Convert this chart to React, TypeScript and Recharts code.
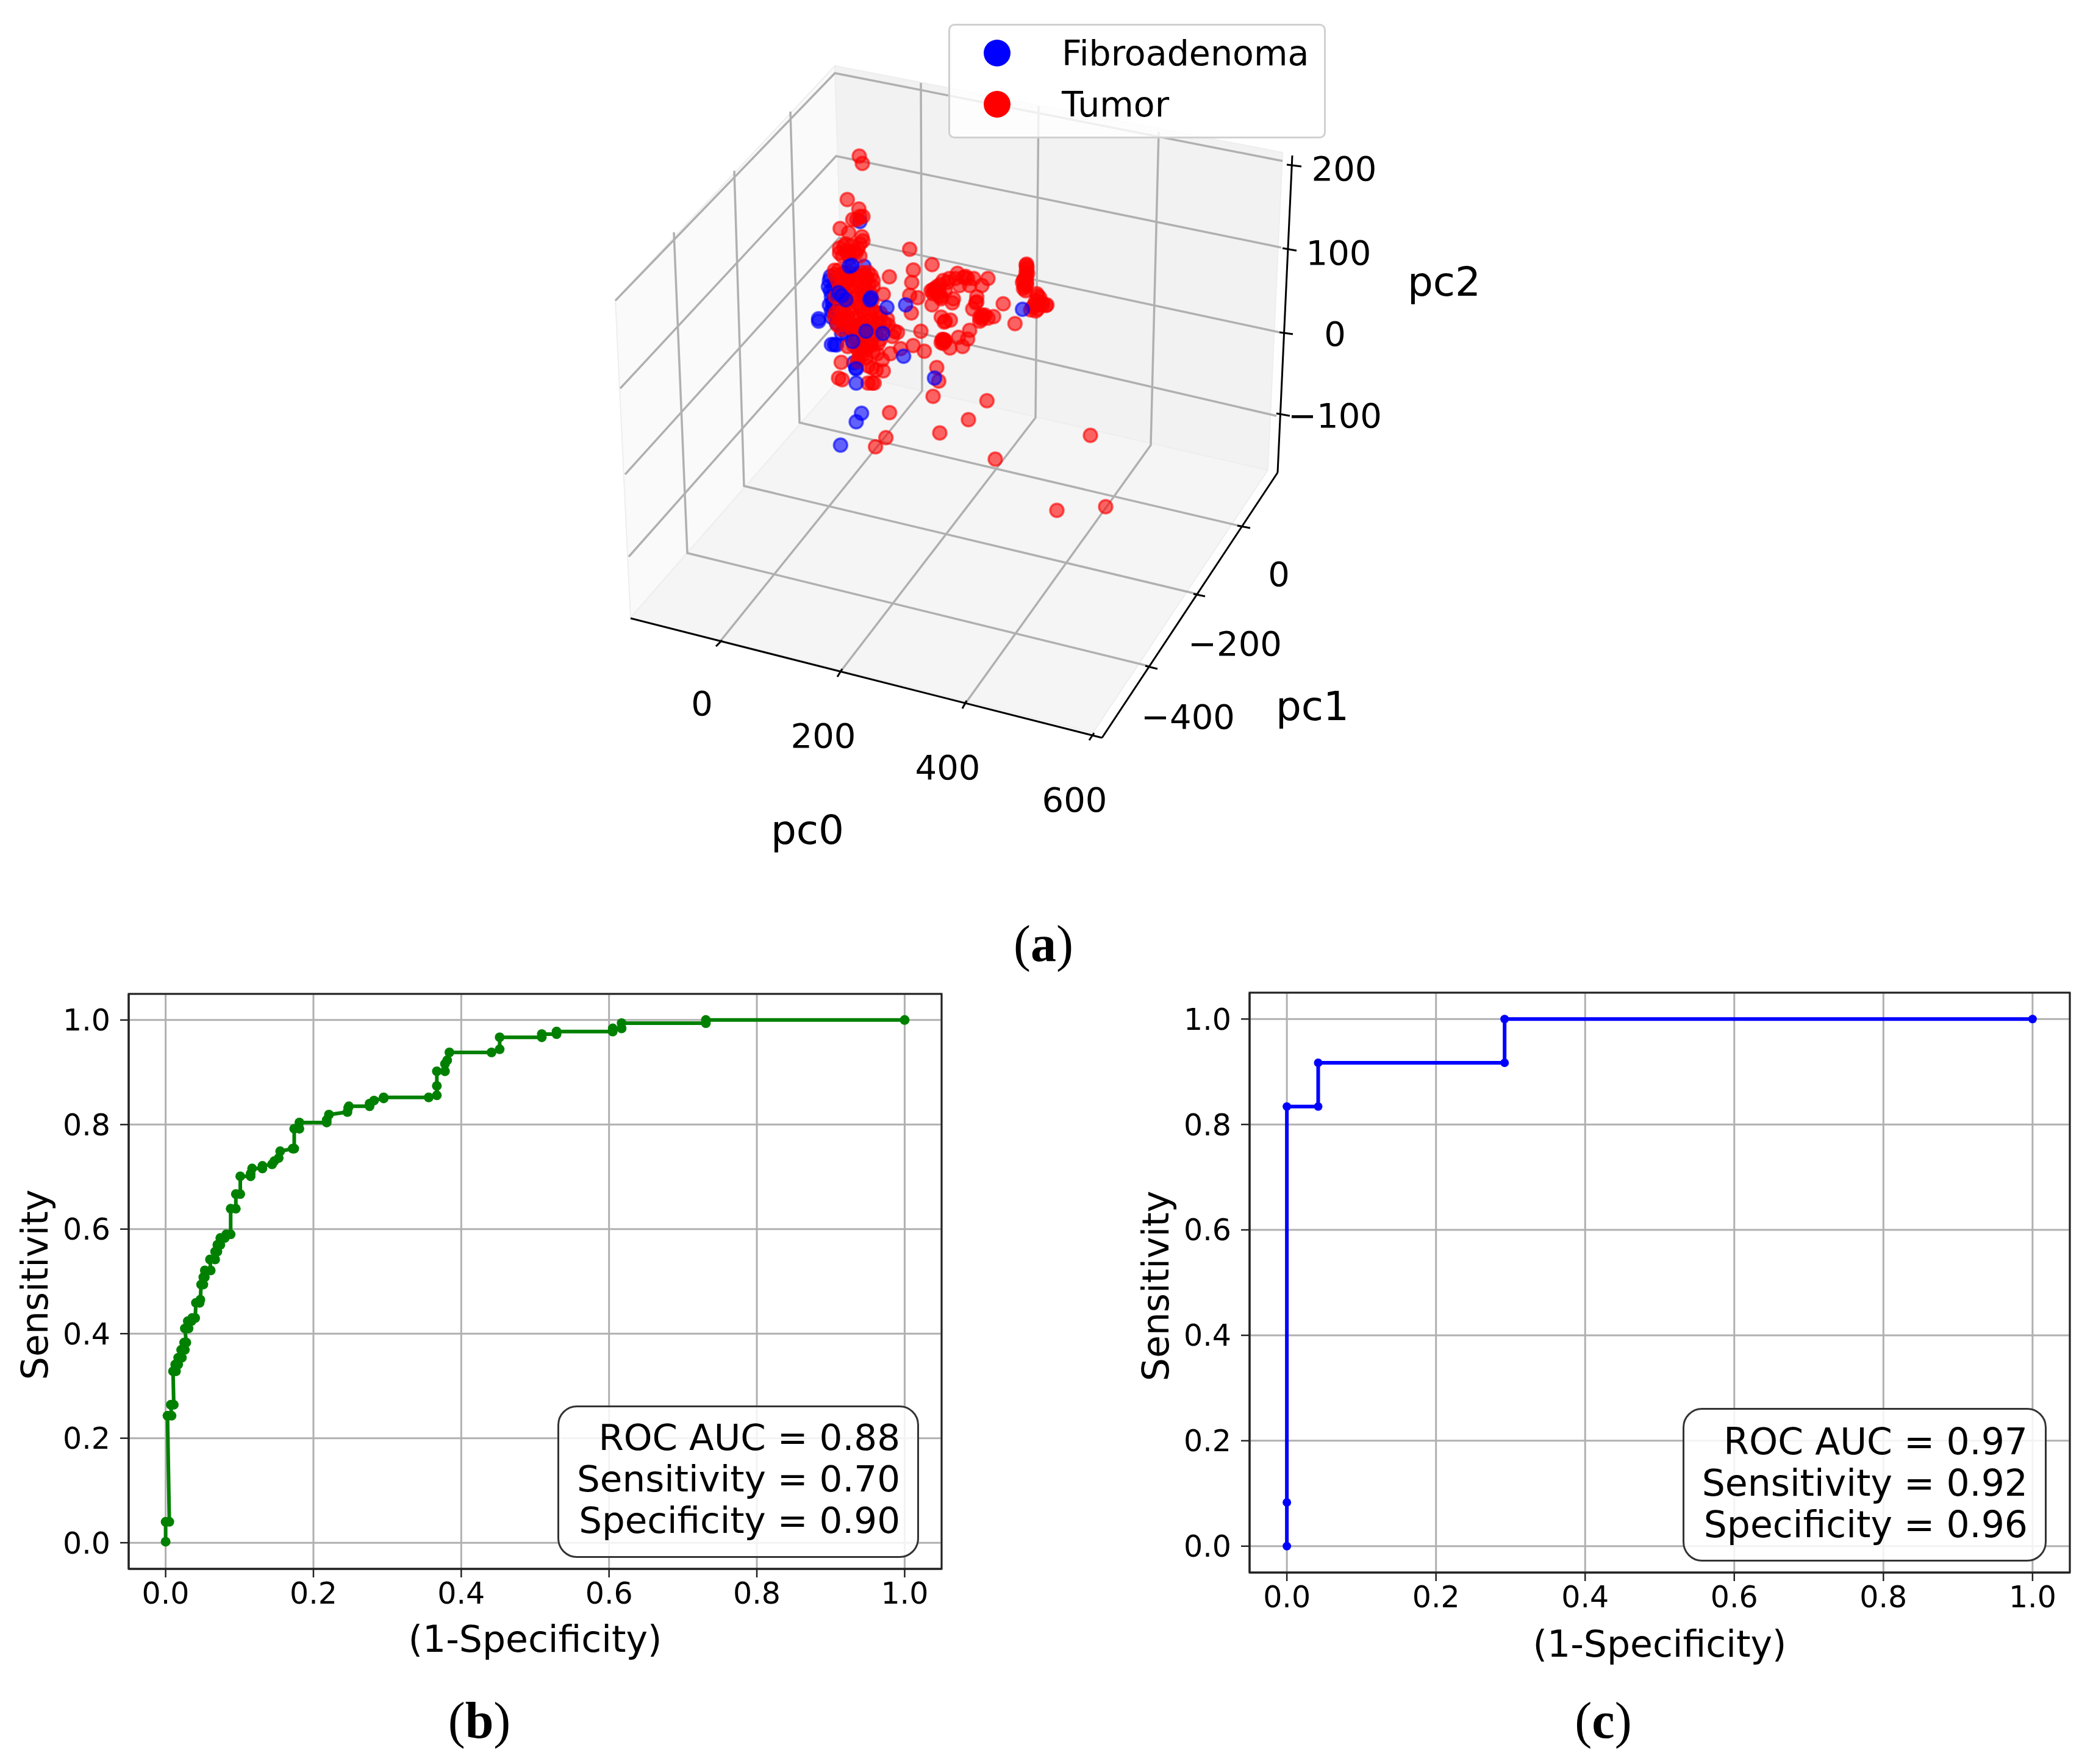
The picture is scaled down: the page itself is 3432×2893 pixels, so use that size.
import React from "react";
import {
  ScatterChart, Scatter, XAxis, YAxis, Legend, LineChart, Line, CartesianGrid, ReferenceArea,
} from "recharts";

const FONT = "'DejaVu Sans', sans-serif";

const leftWall = [[1009, 492], [1369, 108], [1385, 612], [1034, 1013], [1009, 492]];
const backWall = [[1369, 108], [2103, 250], [2079, 771], [1385, 612], [1369, 108]];
const floorPane = [[1034, 1013], [1385, 612], [2079, 771], [1792, 1202], [1034, 1013]];

const gridPc2 = [
  [[1009, 493], [1369, 120], [2103, 264]],
  [[1017, 637], [1371, 256], [2101, 406]],
  [[1025, 778], [1376, 390], [2098, 545]],
  [[1031, 913], [1382, 517], [2093, 682]],
];
const gridPc0 = [
  [[1510, 136], [1512, 641], [1180, 1053]],
  [[1703, 174], [1698, 685], [1377, 1103]],
  [[1900, 216], [1887, 730], [1582, 1155]],
];
const gridPc1 = [
  [[1296, 183], [1311, 693], [2039, 864]],
  [[1204, 280], [1220, 797], [1966, 975]],
  [[1105, 381], [1127, 907], [1886, 1093]],
];
const axisLines3d = [
  [[2119, 255], [2095, 775]],
  [[2095, 775], [1807, 1210]],
  [[1034, 1014], [1807, 1210]],
];
const tickMarks3d = [
  [[2110, 270], [2134, 273]], [[2103, 407], [2126, 411]], [[2098, 545], [2120, 548]], [[2093, 678], [2115, 682]],
  [[1174, 1060], [1184, 1050]], [[1373, 1110], [1381, 1097]], [[1578, 1162], [1585, 1149]], [[1786, 1214], [1794, 1202]],
  [[2029, 862], [2050, 866]], [[1957, 974], [1976, 978]], [[1878, 1092], [1898, 1097]],
];
const tickLabels3d = [
  { x: 2204, y: 276, label: "200" }, { x: 2195, y: 414, label: "100" }, { x: 2189, y: 547, label: "0" }, { x: 2189, y: 681, label: "\u2212100" },
  { x: 2097, y: 941, label: "0" }, { x: 2025, y: 1055, label: "\u2212200" }, { x: 1948, y: 1175, label: "\u2212400" },
  { x: 1151, y: 1153, label: "0" }, { x: 1350, y: 1206, label: "200" }, { x: 1554, y: 1258, label: "400" }, { x: 1762, y: 1311, label: "600" },
];
const axisTitles3d = [
  { x: 2368, y: 462, label: "pc2" }, { x: 2152, y: 1158, label: "pc1" }, { x: 1324, y: 1361, label: "pc0" },
];

const tumorPoints = [
  [327, -132], [342, -96],
  [268, 82], [325, 128], [330, 165], [345, 165], [295, 180], [315, 180], [233, 224], [275, 245], [340, 265], [345, 285], [330, 300],
  [250, 312], [265, 335], [310, 345], [245, 360], [280, 370], [575, 326], [685, 402], [593, 428], [475, 462], [585, 490], [575, 553],
  [615, 565], [583, 640], [445, 548], [205, 430], [240, 450], [280, 440], [340, 440], [370, 440], [220, 480], [260, 490], [300, 480],
  [350, 490], [375, 500], [240, 530], [290, 530], [340, 530], [380, 540], [210, 560], [250, 570], [300, 570], [350, 570], [390, 580],
  [210, 640], [250, 630], [290, 620], [330, 610], [370, 620], [410, 640], [230, 670], [270, 660], [310, 660], [350, 650], [390, 670],
  [430, 660], [220, 700], [260, 700], [300, 700], [340, 690], [380, 700], [420, 690], [465, 670], [295, 720], [340, 730], [380, 740],
  [430, 730], [500, 730], [515, 735], [490, 755], [420, 790], [350, 770], [370, 790], [330, 800], [270, 805], [320, 820], [360, 820],
  [415, 840], [480, 840], [530, 815], [592, 800], [647, 828], [630, 730], [440, 870], [340, 850], [238, 883], [225, 960], [243, 968],
  [445, 925], [390, 910], [370, 900], [410, 920], [390, 985], [370, 985], [400, 985], [320, 870], [680, 530], [700, 520], [690, 545],
  [730, 560], [720, 540], [710, 510], [740, 480], [770, 470], [750, 530], [810, 445], [840, 465], [860, 470], [890, 470], [960, 470],
  [930, 505], [870, 505], [820, 505], [790, 570], [785, 590], [685, 600], [730, 570], [905, 560], [900, 590], [905, 585], [885, 620],
  [930, 650], [920, 680], [945, 650], [960, 665], [988, 658], [1035, 595], [1093, 692], [730, 660], [745, 685], [775, 675], [750, 680],
  [870, 725], [815, 760], [860, 768], [835, 805], [773, 812], [738, 775], [735, 770], [745, 780], [708, 908], [718, 975], [690, 1050],
  [955, 1072], [864, 1165], [723, 1230], [476, 1130], [458, 1253], [407, 1298], [1148, 405],
  [1150, 425], [1155, 445], [1150, 465], [1135, 480], [1150, 490], [1140, 510], [1145, 530], [1205, 555], [1195, 580], [1225, 590],
  [1245, 603], [1210, 600], [1180, 610], [1170, 625], [1205, 620],
  [230, 320], [260, 300], [290, 310], [320, 325], [300, 340], [270, 350], [230, 345], [330, 360], [205, 450], [225, 430], [255, 440],
  [310, 450], [355, 450], [385, 455], [240, 470], [280, 470], [325, 470], [365, 470], [395, 480], [230, 510], [270, 510], [310, 510],
  [355, 510], [395, 510], [260, 550], [320, 550], [360, 550], [270, 590], [320, 590], [370, 590], [230, 610], [275, 620], [345, 630],
  [390, 625], [430, 640], [205, 660], [250, 665], [330, 670], [370, 680], [240, 720], [275, 690], [320, 710], [400, 710], [450, 690],
  [310, 740], [350, 750], [410, 740], [470, 700], [310, 770], [390, 770], [430, 770], [340, 790], [385, 800], [300, 800], [345, 810],
  [330, 840], [395, 830], [360, 860], [320, 880],
  [1150, 400], [1152, 415], [1148, 440], [1140, 470], [1130, 490], [1150, 500], [1135, 520], [1200, 545], [1215, 565], [1190, 600],
  [1230, 600], [1250, 600], [1195, 630], [742, 770], [730, 785], [750, 775], [740, 790], [850, 460], [800, 470], [760, 490], [725, 500],
  [700, 535], [690, 525], [720, 555], [920, 660], [935, 655], [930, 670],
];
const tumorFar = [[1788, 714], [1632, 753], [1733, 837], [1813, 831]];
const fibroBack = [
  [127, 668], [127, 680], [205, 795], [190, 795], [215, 797], [338, 1133], [312, 1175], [235, 1290], [270, 710], [350, 410], [330, 190],
  [185, 460], [175, 510], [190, 560], [180, 600], [190, 630], [225, 570], [200, 520], [300, 885], [310, 910], [180, 480], [185, 530],
  [195, 590], [200, 610], [190, 660], [215, 690], [240, 740], [265, 745],
];
const fibroFront = [
  [385, 565], [380, 575], [290, 405], [278, 410], [463, 613], [555, 600], [443, 740], [545, 853], [1130, 622], [697, 960], [312, 985],
  [312, 915], [295, 780], [360, 730], [240, 555], [225, 540], [260, 575],
];

// ---- ROC curves ----
const rocB = [
  [0, 0.002], [0, 0.04], [0.005, 0.04], [0.0025, 0.243], [0.008, 0.243], [0.007, 0.264], [0.011, 0.264], [0.01, 0.328], [0.014, 0.328],
  [0.013, 0.341], [0.017, 0.341], [0.017, 0.354], [0.022, 0.354], [0.021, 0.369], [0.026, 0.369], [0.025, 0.383], [0.028, 0.383],
  [0.026, 0.41], [0.031, 0.41], [0.03, 0.424], [0.035, 0.424], [0.036, 0.43], [0.04, 0.43], [0.041, 0.459], [0.046, 0.459], [0.047, 0.465],
  [0.048, 0.494], [0.051, 0.494], [0.051, 0.508], [0.053, 0.508], [0.053, 0.521], [0.061, 0.521], [0.06, 0.542], [0.067, 0.542],
  [0.067, 0.557], [0.07, 0.557], [0.07, 0.57], [0.074, 0.57], [0.074, 0.583], [0.08, 0.583], [0.082, 0.59], [0.088, 0.59], [0.088, 0.639],
  [0.095, 0.639], [0.095, 0.667], [0.101, 0.667], [0.101, 0.701], [0.115, 0.701], [0.115, 0.706], [0.117, 0.716], [0.131, 0.716],
  [0.131, 0.721], [0.144, 0.724], [0.147, 0.73], [0.153, 0.736], [0.155, 0.749], [0.172, 0.754], [0.174, 0.754], [0.174, 0.792],
  [0.181, 0.792], [0.181, 0.804], [0.218, 0.804], [0.218, 0.809], [0.221, 0.819], [0.246, 0.824], [0.247, 0.832], [0.248, 0.835],
  [0.276, 0.835], [0.276, 0.84], [0.282, 0.846], [0.295, 0.85], [0.295, 0.852], [0.356, 0.852], [0.367, 0.856], [0.367, 0.874],
  [0.367, 0.902], [0.378, 0.902], [0.378, 0.916], [0.381, 0.923], [0.384, 0.938], [0.441, 0.938], [0.452, 0.944], [0.452, 0.967],
  [0.509, 0.967], [0.509, 0.973], [0.529, 0.973], [0.529, 0.978], [0.605, 0.978], [0.605, 0.984], [0.617, 0.984], [0.617, 0.994],
  [0.731, 0.994], [0.731, 1], [1, 1],
];
const rocC = [
  [0, 0], [0, 0.083], [0, 0.834], [0.042, 0.834], [0.042, 0.917], [0.292, 0.917], [0.292, 1], [1, 1],
];
const rocTicks = [0, 0.2, 0.4, 0.6, 0.8, 1];
const statsB = ["ROC AUC = 0.88", "Sensitivity = 0.70", "Specificity = 0.90"];
const statsC = ["ROC AUC = 0.97", "Sensitivity = 0.92", "Specificity = 0.96"];
const legendNames = ["Fibroadenoma", "Tumor"];

const toXY = (list: number[][]) => list.map(([x, y]) => ({ x, y }));
const NoDot = () => <g />;
const planeAxes = { xAxisId: "plane", yAxisId: "plane" };
const pointAxes = { xAxisId: "pts", yAxisId: "pts" };

const redDot = (p: any) => (
  <circle cx={p.cx} cy={p.cy} r={11} fill="#ff0000" fillOpacity={0.6} stroke="#ff0000" strokeOpacity={0.6} strokeWidth={3.5} />
);
const blueDot = (p: any) => (
  <circle cx={p.cx} cy={p.cy} r={11} fill="#0000ff" fillOpacity={0.6} stroke="#0000ff" strokeOpacity={0.6} strokeWidth={3.5} />
);
const textDot = (size: number) => (p: any) => (
  <text x={p.cx} y={p.cy} textAnchor="middle" dominantBaseline="central" fontFamily={FONT} fontSize={size} fill="#000">
    {p.payload.label}
  </text>
);

const legendBox = (props: any) => (
  <div style={{
    width: 619, height: 188, boxSizing: "border-box", border: "3px solid #d0d0d0", borderRadius: 10,
    background: "rgba(255,255,255,0.8)", fontFamily: FONT, fontSize: 57, color: "#000", position: "relative",
  }}>
    {(props.payload || []).filter((item: any) => legendNames.includes(item.value)).map((item: any, i: number) => (
      <div key={item.value} style={{ position: "absolute", left: 0, top: 5 + i * 84, height: 84, lineHeight: "80px", whiteSpace: "nowrap" }}>
        <svg width={44} height={44} style={{ position: "absolute", left: 55, top: 18 }}>
          <circle cx={22} cy={22} r={22} fill={item.color} />
        </svg>
        <span style={{ marginLeft: 183 }}>{item.value}</span>
      </div>
    ))}
  </div>
);

function Panel3D() {
  const panes: [number[][], string][] = [[leftWall, "#fafafa"], [backWall, "#f2f2f2"], [floorPane, "#f5f5f5"]];
  const grids = [...gridPc2, ...gridPc0, ...gridPc1];
  return (
    <div style={{ position: "absolute", left: 0, top: 0 }}>
      <ScatterChart width={3432} height={1450} margin={{ top: 0, right: 0, bottom: 0, left: 0 }}>
        <XAxis hide type="number" dataKey="x" xAxisId="plane" domain={[0, 3432]} allowDataOverflow />
        <YAxis hide type="number" dataKey="y" yAxisId="plane" domain={[0, 1450]} reversed allowDataOverflow width={0} />
        <XAxis hide type="number" dataKey="x" xAxisId="pts" domain={[-3900, 6396]} allowDataOverflow />
        <YAxis hide type="number" dataKey="y" yAxisId="pts" domain={[-900, 3450]} reversed allowDataOverflow width={0} />
        {panes.map(([pts, color], i) => (
          <Scatter key={"pane" + i} {...planeAxes} data={toXY(pts)} shape={NoDot} legendType="none" isAnimationActive={false}
            line={{ fill: color, stroke: "#eeeeee", strokeWidth: 2 }} />
        ))}
        {grids.map((pts, i) => (
          <Scatter key={"grid" + i} {...planeAxes} data={toXY(pts)} shape={NoDot} legendType="none" isAnimationActive={false}
            line={{ stroke: "#b0b0b0", strokeWidth: 3.5, fill: "none" }} />
        ))}
        {axisLines3d.map((pts, i) => (
          <Scatter key={"axis" + i} {...planeAxes} data={toXY(pts)} shape={NoDot} legendType="none" isAnimationActive={false}
            line={{ stroke: "#000", strokeWidth: 3, fill: "none" }} />
        ))}
        {tickMarks3d.map((pts, i) => (
          <Scatter key={"tick" + i} {...planeAxes} data={toXY(pts)} shape={NoDot} legendType="none" isAnimationActive={false}
            line={{ stroke: "#000", strokeWidth: 3, fill: "none" }} />
        ))}
        <Scatter {...pointAxes} name={legendNames[0]} data={toXY(fibroBack)} fill="#0000ff" shape={blueDot} isAnimationActive={false} />
        <Scatter {...pointAxes} name={legendNames[1]} data={toXY(tumorPoints)} fill="#ff0000" shape={redDot} isAnimationActive={false} />
        <Scatter {...planeAxes} data={toXY(tumorFar)} shape={redDot} legendType="none" isAnimationActive={false} />
        <Scatter {...pointAxes} data={toXY(fibroFront)} shape={blueDot} legendType="none" isAnimationActive={false} />
        <Scatter {...planeAxes} data={tickLabels3d} shape={textDot(56)} legendType="none" isAnimationActive={false} />
        <Scatter {...planeAxes} data={axisTitles3d} shape={textDot(66)} legendType="none" isAnimationActive={false} />
        <Legend layout="vertical" align="center" verticalAlign="middle" content={legendBox}
          wrapperStyle={{ left: 1555, top: 39, width: 619, height: 188, right: "auto", bottom: "auto" }} />
      </ScatterChart>
    </div>
  );
}

type RocProps = {
  data: number[][]; color: string; stats: string[];
  plot: { left: number; right: number; top: number; bottom: number };
  box: { left: number; right: number; top: number; bottom: number };
  textRight: number; ylabelX: number; xlabelY: number; lineTop: number; dotR: number; statFont: number;
};

function RocPanel({ data, color, stats, plot, box, textRight, ylabelX, xlabelY, lineTop, dotR, statFont }: RocProps) {
  const originTop = 1600;
  const chartH = 1150;
  const chartW = plot.right + 30;
  const table = toXY(data);
  return (
    <div style={{ position: "absolute", left: 0, top: originTop }}>
      <LineChart width={chartW} height={chartH} data={table}
        margin={{ left: 0, right: 30, top: plot.top - originTop, bottom: 0 }}>
        <CartesianGrid stroke="#b0b0b0" strokeWidth={3} />
        <XAxis type="number" dataKey="x" domain={[-0.05, 1.05]} ticks={rocTicks} allowDataOverflow
          height={originTop + chartH - plot.bottom} tickFormatter={(v: number) => v.toFixed(1)}
          tick={{ fontFamily: FONT, fontSize: 49, fill: "#000" }} tickSize={14} tickMargin={8}
          axisLine={{ stroke: "#222", strokeWidth: 3 }} tickLine={{ stroke: "#222", strokeWidth: 2.5 }} />
        <YAxis type="number" dataKey="y" domain={[-0.05, 1.05]} ticks={rocTicks} allowDataOverflow
          width={plot.left} tickFormatter={(v: number) => v.toFixed(1)}
          tick={{ fontFamily: FONT, fontSize: 49, fill: "#000" }} tickSize={14} tickMargin={16}
          axisLine={{ stroke: "#222", strokeWidth: 3 }} tickLine={{ stroke: "#222", strokeWidth: 2.5 }} />
        <ReferenceArea x1={-0.05} x2={1.05} y1={-0.05} y2={1.05} fill="none" stroke="#222" strokeWidth={3} ifOverflow="visible" />
        <Line dataKey="y" stroke={color} strokeWidth={6} isAnimationActive={false}
          dot={{ r: dotR, fill: color, stroke: color, strokeWidth: 0 }} activeDot={false} />
      </LineChart>
      <div style={{
        position: "absolute", left: ylabelX - 200, top: (plot.top + plot.bottom) / 2 + 5 - originTop - 40, width: 400, height: 80,
        lineHeight: "80px", textAlign: "center", transform: "rotate(-90deg)", fontFamily: FONT, fontSize: 60, color: "#000",
      }}>Sensitivity</div>
      <div style={{
        position: "absolute", left: (plot.left + plot.right) / 2 - 300, top: xlabelY - originTop - 40, width: 600, height: 80,
        lineHeight: "80px", textAlign: "center", fontFamily: FONT, fontSize: 60, color: "#000",
      }}>(1-Specificity)</div>
      <div style={{
        position: "absolute", left: box.left, top: box.top - originTop, width: box.right - box.left, height: box.bottom - box.top,
        boxSizing: "border-box", border: "3px solid #333", borderRadius: 32, background: "rgba(255,255,255,0.85)",
      }} />
      {stats.map((s, i) => (
        <div key={s} style={{
          position: "absolute", left: textRight - 700, width: 700, top: lineTop + i * 68 - originTop - 40, height: 80, lineHeight: "80px",
          textAlign: "right", fontFamily: FONT, fontSize: statFont, color: "#000", whiteSpace: "nowrap",
        }}>{s}</div>
      ))}
    </div>
  );
}

function Caption({ letter, x, y }: { letter: string; x: number; y: number }) {
  return (
    <div style={{
      position: "absolute", left: x - 100, top: y - 60, width: 200, height: 120, lineHeight: "120px", textAlign: "center",
      fontFamily: "'Liberation Serif', serif", fontSize: 84, color: "#000",
    }}>(<b>{letter}</b>)</div>
  );
}

export default function App() {
  return (
    <div style={{ position: "absolute", left: 0, top: 0, width: 3432, height: 2893, background: "#fff", overflow: "hidden" }}>
      <Panel3D />
      <RocPanel data={rocB} color="#008000" stats={statsB} dotR={8} statFont={59.5}
        plot={{ left: 211, right: 1544, top: 1630, bottom: 2573 }}
        box={{ left: 914, right: 1507, top: 2305, bottom: 2555 }}
        textRight={1476} ylabelX={57} xlabelY={2688} lineTop={2358} />
      <RocPanel data={rocC} color="#0000ff" stats={statsC} dotR={7} statFont={60}
        plot={{ left: 2049, right: 3394, top: 1628, bottom: 2579 }}
        box={{ left: 2759, right: 3356, top: 2309, bottom: 2561 }}
        textRight={3325} ylabelX={1895} xlabelY={2696} lineTop={2364} />
      <Caption letter="a" x={1711} y={1548} />
      <Caption letter="b" x={786} y={2822} />
      <Caption letter="c" x={2629} y={2822} />
    </div>
  );
}
